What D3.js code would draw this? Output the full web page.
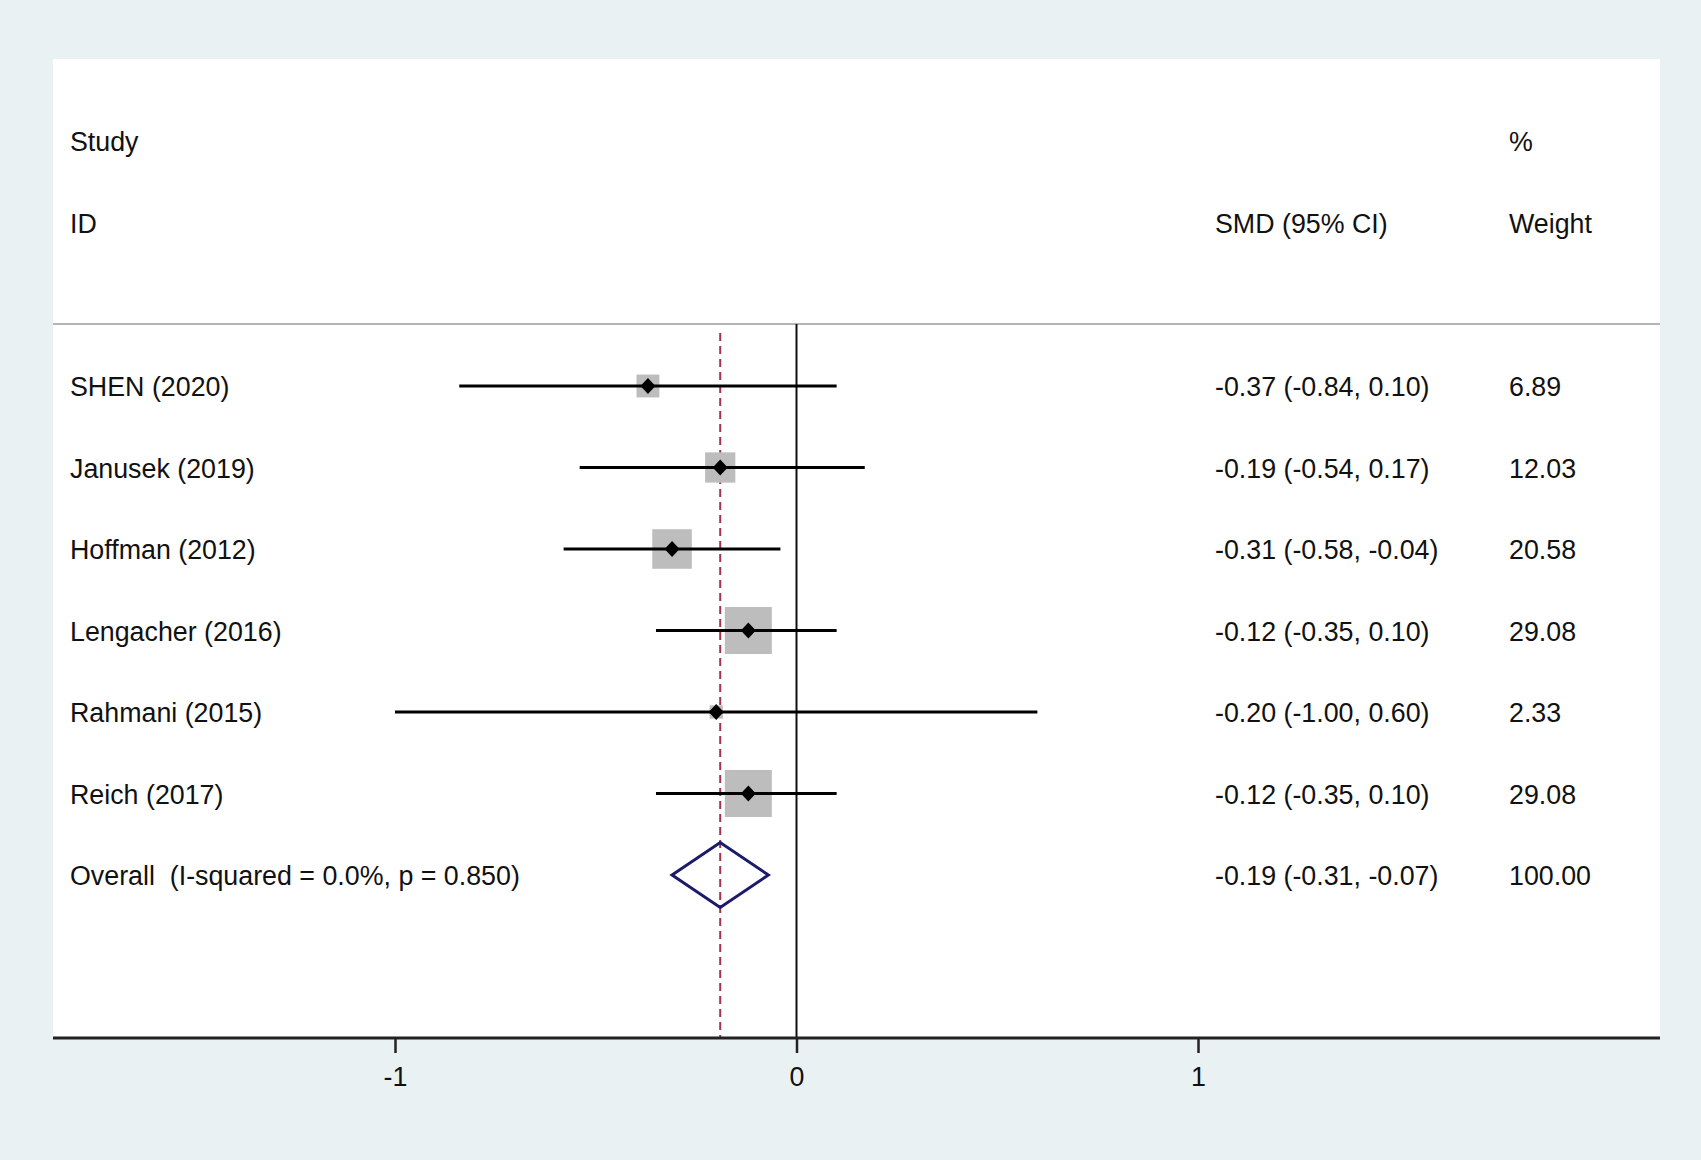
<!DOCTYPE html>
<html>
<head>
<meta charset="utf-8">
<script src="https://cdn.jsdelivr.net/npm/d3@7"></script>
<style>
  html, body { margin: 0; padding: 0; background: #eaf1f3; }
  svg { display: block; }
  text { font-family: "Liberation Sans", Arial, sans-serif; font-size: 26.8px; fill: #111; white-space: pre; }
</style>
</head>
<body>
<svg id="chart" width="1701" height="1160"></svg>
<script>
// ---- data ----
const studies = ["SHEN (2020)", "Janusek (2019)", "Hoffman (2012)", "Lengacher (2016)", "Rahmani (2015)", "Reich (2017)"];
const smd     = [-0.37, -0.19, -0.31, -0.12, -0.20, -0.12];
const lower   = [-0.84, -0.54, -0.58, -0.35, -1.00, -0.35];
const upper   = [ 0.10,  0.17, -0.04,  0.10,  0.60,  0.10];
const weights = [ 6.89, 12.03, 20.58, 29.08,  2.33, 29.08];
const ciLabels = ["-0.37 (-0.84, 0.10)", "-0.19 (-0.54, 0.17)", "-0.31 (-0.58, -0.04)", "-0.12 (-0.35, 0.10)", "-0.20 (-1.00, 0.60)", "-0.12 (-0.35, 0.10)"];
const weightLabels = ["6.89", "12.03", "20.58", "29.08", "2.33", "29.08"];
const overallLabel = "Overall  (I-squared = 0.0%, p = 0.850)";
const overall = { est: -0.19, lo: -0.31, hi: -0.07, ci: "-0.19 (-0.31, -0.07)", w: "100.00" };
const xTicks = [-1, 0, 1];
const xTickLabels = ["-1", "0", "1"];

// ---- layout ----
const svg = d3.select("#chart");
const panel = { left: 53, top: 59, right: 1660, bottom: 1038 };
const sepY = 324;
const colLabelX = 70, colCIX = 1215, colWX = 1509;

const x = d3.scaleLinear().domain([-1, 1]).range([395, 1198]);
const rowIdx = d3.range(studies.length + 1);
const y = d3.scalePoint().domain(rowIdx).range([386, 875]);
const box = d3.scaleSqrt().domain([0, d3.max(weights)]).range([0, 47]);

// white panel
svg.append("rect")
  .attr("x", panel.left).attr("y", panel.top)
  .attr("width", panel.right - panel.left).attr("height", panel.bottom - panel.top)
  .attr("fill", "#ffffff");

// headers
svg.append("text").attr("x", colLabelX).attr("y", 151).text("Study");
svg.append("text").attr("x", colLabelX).attr("y", 233).text("ID");
svg.append("text").attr("x", colCIX).attr("y", 233).text("SMD (95% CI)");
svg.append("text").attr("x", colWX).attr("y", 151).text("%");
svg.append("text").attr("x", colWX).attr("y", 233).text("Weight");

// separator
svg.append("line")
  .attr("x1", panel.left).attr("x2", panel.right)
  .attr("y1", sepY).attr("y2", sepY)
  .attr("stroke", "#b4b4b4").attr("stroke-width", 2);

// dashed overall line
svg.append("line")
  .attr("x1", x(overall.est)).attr("x2", x(overall.est))
  .attr("y1", 333).attr("y2", panel.bottom)
  .attr("stroke", "#a3324a").attr("stroke-width", 2)
  .attr("stroke-dasharray", "8,5");

// zero line
svg.append("line")
  .attr("x1", x(0)).attr("x2", x(0))
  .attr("y1", sepY).attr("y2", panel.bottom)
  .attr("stroke", "#111").attr("stroke-width", 2);

const data = studies.map((s, i) => ({ s, i, est: smd[i], lo: lower[i], hi: upper[i], w: weights[i] }));

// boxes
svg.append("g").selectAll("rect").data(data).join("rect")
  .attr("x", d => x(d.est) - box(d.w) / 2)
  .attr("y", d => y(d.i) - box(d.w) / 2)
  .attr("width", d => box(d.w))
  .attr("height", d => box(d.w))
  .attr("fill", "#bdbdbd");

// CI lines
svg.append("g").selectAll("line").data(data).join("line")
  .attr("x1", d => x(d.lo)).attr("x2", d => x(d.hi))
  .attr("y1", d => y(d.i)).attr("y2", d => y(d.i))
  .attr("stroke", "#000").attr("stroke-width", 3.2);

// point markers (small diamonds)
svg.append("g").selectAll("path").data(data).join("path")
  .attr("d", d => {
    const cx = x(d.est), cy = y(d.i), hw = 7.5, hh = 8;
    return `M${cx - hw},${cy}L${cx},${cy - hh}L${cx + hw},${cy}L${cx},${cy + hh}Z`;
  })
  .attr("fill", "#000");

// overall diamond
const oy = y(studies.length);
svg.append("path")
  .attr("d", `M${x(overall.lo)},${oy}L${x(overall.est)},${oy - 32.5}L${x(overall.hi)},${oy}L${x(overall.est)},${oy + 32.5}Z`)
  .attr("fill", "none").attr("stroke", "#1b1a6b").attr("stroke-width", 3)
  .attr("stroke-linejoin", "miter");

// row texts
const rows = data.map(d => ({ label: d.s, ci: ciLabels[d.i], w: weightLabels[d.i], i: d.i }));
rows.push({ label: overallLabel, ci: overall.ci, w: overall.w, i: studies.length });
const rg = svg.append("g");
rg.selectAll("text.lab").data(rows).join("text").attr("class", "lab")
  .attr("x", colLabelX).attr("y", d => y(d.i) + 10).text(d => d.label);
rg.selectAll("text.ci").data(rows).join("text").attr("class", "ci")
  .attr("x", colCIX).attr("y", d => y(d.i) + 10).text(d => d.ci);
rg.selectAll("text.w").data(rows).join("text").attr("class", "w")
  .attr("x", colWX).attr("y", d => y(d.i) + 10).text(d => d.w);

// x axis
svg.append("line")
  .attr("x1", panel.left).attr("x2", panel.right)
  .attr("y1", panel.bottom).attr("y2", panel.bottom)
  .attr("stroke", "#222").attr("stroke-width", 3);

const axis = d3.axisBottom(x)
  .tickValues(xTicks)
  .tickFormat((d, i) => xTickLabels[i])
  .tickSize(15)
  .tickPadding(14);
const ag = svg.append("g").attr("transform", `translate(0,${panel.bottom})`).call(axis);
ag.select(".domain").remove();
ag.selectAll(".tick line").attr("stroke", "#222").attr("stroke-width", 2.5);
ag.selectAll(".tick text")
  .style("font-family", '"Liberation Sans", Arial, sans-serif')
  .style("font-size", "26.8px").attr("fill", "#111");
</script>
</body>
</html>
